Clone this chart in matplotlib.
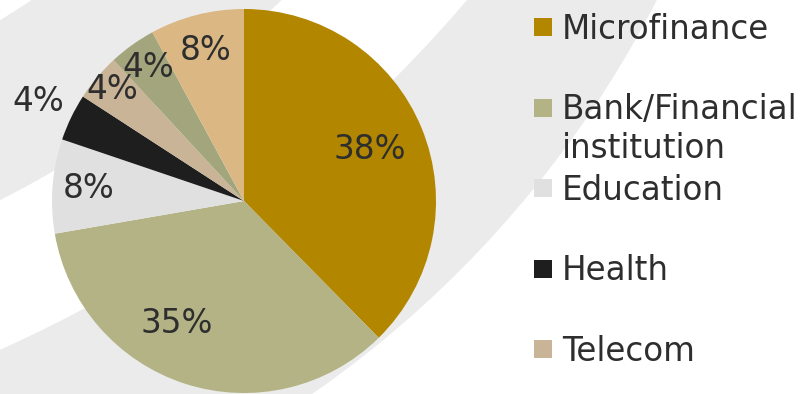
import numpy as np
import matplotlib
matplotlib.use("Agg")
import matplotlib.pyplot as plt
from matplotlib.patches import Circle, Wedge, Rectangle

# sector shares (%)
categories = ["Microfinance", "Bank/Financial\ninstitution", "Education",
              "Health", "Telecom", "Agriculture", "Other"]
shares = [38, 35, 8, 4, 4, 4, 8]
colors = ["#B38600", "#B3B386", "#E0E0E0", "#1E1E1E",
          "#C9B498", "#A3A67C", "#DAB783"]

# how far out each percentage sits (fraction of radius), plus a small angle nudge
label_r = [0.71, 0.73, 0.81, 1.19, 0.90, 0.855, 0.81]
label_nudge = [0, -11, 0, 0, 0, 0, 0]

W, H = 810, 394
txt_color = "#2E2E2E"
fsize = 23.5

fig = plt.figure(figsize=(W / 100, H / 100), dpi=100)

# background swooshes, drawn in pixel units
bg = fig.add_axes([0, 0, 1, 1])
bg.set_xlim(0, W)
bg.set_ylim(H, 0)
bg.axis("off")
swoosh = "#EBEBEB"
bg.add_patch(Circle((-304, -493), 1080, color=swoosh, lw=0))
bg.add_patch(Circle((-540, -858), 1323, color="white", lw=0))
bg.add_patch(Wedge((-540, -858), 1188, 0, 360, width=157, color=swoosh, lw=0))

# pie
cx, cy, rad = 244, 201, 192
ax = fig.add_axes([(cx - rad) / W, (H - cy - rad) / H, 2 * rad / W, 2 * rad / H])
wedges, _, autotexts = ax.pie(shares, colors=colors, startangle=90,
                              counterclock=False, autopct="%.0f%%",
                              wedgeprops=dict(linewidth=0),
                              textprops=dict(color=txt_color, fontsize=fsize))
ax.set_xlim(-1, 1)
ax.set_ylim(-1, 1)
ax.set_aspect("equal")

for w, t, r, nd in zip(wedges, autotexts, label_r, label_nudge):
    mid = np.deg2rad((w.theta1 + w.theta2) / 2 + nd)
    t.set_position((r * np.cos(mid), r * np.sin(mid)))
    t.set_ha("center")
    t.set_va("center")

# legend column on the right (room for five rows)
line_gap = 38.5
for i, (name, col) in enumerate(zip(categories[:5], colors[:5])):
    yc = 27 + 80.6 * i
    bg.add_patch(Rectangle((534, yc - 9), 18, 18, color=col, lw=0))
    for k, part in enumerate(name.split("\n")):
        bg.text(562, yc + 11.5 + k * line_gap, part, fontsize=fsize,
                color=txt_color, va="baseline", ha="left")

fig.savefig("out.png", dpi=100)
